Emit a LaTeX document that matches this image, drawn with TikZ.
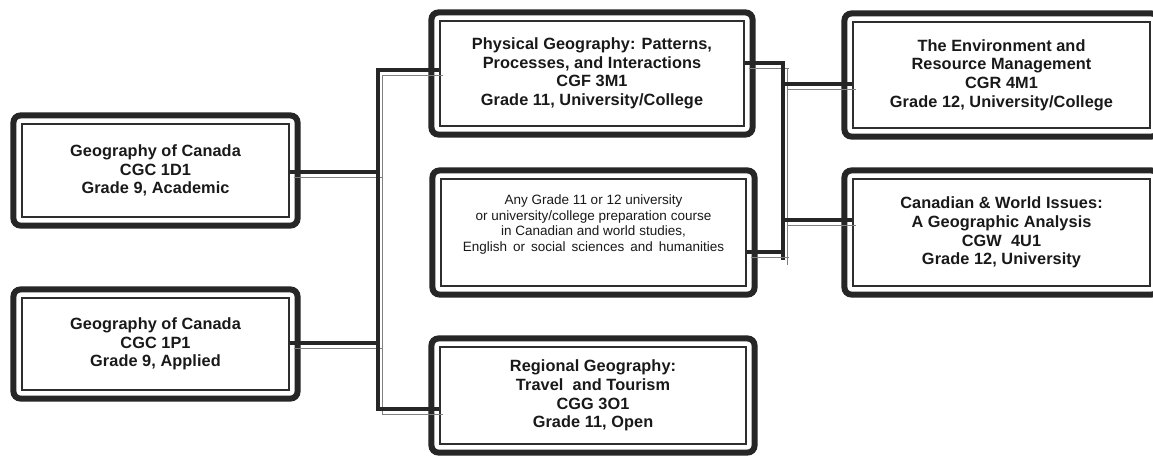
\documentclass[tikz,border=0pt]{standalone}
\usepackage{fontspec}
\setmainfont{Liberation Sans}
\newfontfamily\titlefont{Liberation Sans}[LetterSpace=0.5]
\begin{document}
\begin{tikzpicture}[x=1pt,y=1pt,
  course/.style={draw=black!82, line width=1.1pt, inner sep=0pt, align=center,
    font=\titlefont\bfseries\fontsize{16.3}{18.6}\selectfont, text=black!90},
  plain/.style={course, font=\fontsize{13.5}{15.7}\selectfont},
  frame/.style={draw=black!85, line width=6pt, rounded corners=7pt},
  conn/.style={draw=black!85, line width=3.5pt,
    preaction={draw=black!50, line width=0.9pt, transform canvas={xshift=4pt,yshift=-5pt}}}]
\fill[white] (0,0) rectangle (1153,-456);
\useasboundingbox (0,0) rectangle (1153,-456);

\node[course, minimum width=267pt, minimum height=93pt] (A) at (155.5,-170.5)
  {Geography of Canada\\CGC 1D1\\Grade 9, Academic};
\node[course, minimum width=267pt, minimum height=92pt] (B) at (155.5,-344)
  {Geography of Canada\\CGC 1P1\\Grade 9, Applied};
\node[course, minimum width=304pt, minimum height=105pt] (C) at (592,-73.5)
  {Physical Geography: Patterns,\\ Processes, and Interactions\\CGF 3M1\\Grade 11, University/College};
\node[plain, minimum width=305pt, minimum height=107pt] (D) at (593.5,-232.5)
  {Any Grade 11 or 12 university\\or university/college preparation course\\in Canadian and world studies,\\{\spaceskip=0.45em English or social sciences and humanities}\\[3pt]};
\node[course, minimum width=306pt, minimum height=97pt] (E) at (593,-395.5)
  {Regional Geography:\\Travel\ \ and Tourism\\CGG 3O1\\Grade 11, Open};
\node[course, minimum width=297pt, minimum height=106pt] (F) at (1001.5,-75)
  {The Environment and\\Resource Management\\CGR 4M1\\Grade 12, University/College};
\node[course, minimum width=297pt, minimum height=107pt] (G) at (1001.5,-232.5)
  {Canadian \& World Issues:\\A Geographic Analysis\\CGW\ \ 4U1\\Grade 12, University};

\foreach \n in {A,B,C,D,E,F,G}
  \draw[frame] ([shift={(-8pt,8pt)}]\n.north west) rectangle ([shift={(8pt,-8pt)}]\n.south east);

% left spine
\coordinate (lA) at (378,-172);
\coordinate (lB) at (378,-343);
\coordinate (lC) at (378,-70);
\coordinate (lE) at (378,-409);
\draw[conn] (A.east |- lA) -- (lA);
\draw[conn] (B.east |- lB) -- (lB);
\draw[conn] (C.west |- lC) -- (lC) -- (lE) -- (E.west |- lE);

% right spine
\coordinate (rC) at (785,-63);
\coordinate (rD) at (785,-252);
\coordinate (rTop) at (783,-63);
\coordinate (rBot) at (783,-260);
\coordinate (rF) at (783,-84);
\coordinate (rG) at (783,-220);
\draw[conn] (C.east |- rC) -- (rC);
\draw[conn] (rTop) -- (rBot);
\draw[conn] (D.east |- rD) -- (rD);
\draw[conn] (rF) -- (F.west |- rF);
\draw[conn] (rG) -- (G.west |- rG);
\end{tikzpicture}
\end{document}
